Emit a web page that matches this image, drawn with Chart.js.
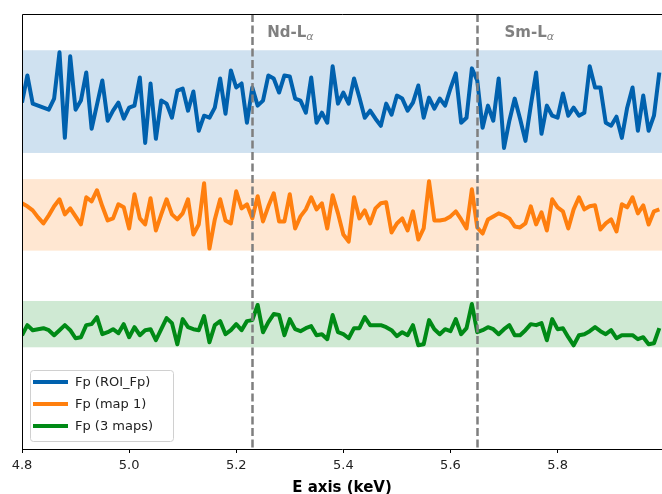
<!DOCTYPE html>
<html>
<head>
<meta charset="utf-8">
<script src="https://cdn.jsdelivr.net/npm/chart.js@4.4.1/dist/chart.umd.min.js"></script>
<style>
  body { margin: 0; background: #fff; }
  #spectra { display: block; }
</style>
</head>
<body>
<canvas id="spectra" width="662" height="494"></canvas>
<script>
// energy grid of the spectra (keV)
var energyStart = 4.80;
var energyStep = 0.01;

var seriesLabels = ['Fp (ROI_Fp)', 'Fp (map 1)', 'Fp (3 maps)'];
var seriesColors = ['#0061ae', '#ff7f0e', '#008a16'];

// stacked spectra, already offset from each other
var roiFp = [344, 371, 343, 341, 339, 337, 348, 394, 309, 390, 337, 346, 374, 318, 342, 366, 326, 336, 344, 328,
  339, 341, 369, 304, 363, 308, 346, 343, 329, 356, 358, 336, 355, 316, 331, 329, 339, 368, 333, 376,
  359, 363, 324, 359, 341, 346, 371, 368, 354, 371, 370, 348, 346, 334, 369, 324, 334, 324, 380, 343,
  354, 343, 368, 349, 329, 336, 328, 321, 343, 332, 351, 348, 336, 344, 361, 329, 349, 338, 348, 341,
  358, 373, 324, 329, 378, 366, 319, 341, 326, 368, 299, 326, 348, 328, 306, 341, 374, 313, 341, 331,
  329, 353, 331, 339, 331, 334, 380, 359, 359, 324, 321, 330, 309, 339, 359, 316, 351, 316, 331, 374];

var map1 = [244, 241, 237, 230, 224, 232, 241, 248, 233, 239, 231, 223, 250, 246, 257, 241, 227, 229, 243, 240,
  219, 253, 229, 223, 249, 217, 233, 248, 233, 228, 234, 248, 213, 223, 264, 199, 228, 248, 227, 224,
  256, 239, 243, 229, 251, 226, 241, 254, 226, 226, 253, 219, 231, 238, 250, 238, 244, 219, 252, 234,
  213, 206, 250, 229, 237, 224, 239, 244, 245, 215, 224, 229, 217, 236, 208, 219, 266, 227, 227, 228,
  231, 236, 228, 219, 258, 220, 214, 228, 231, 234, 232, 229, 221, 220, 224, 241, 223, 235, 217, 248,
  240, 236, 219, 238, 250, 238, 241, 242, 218, 224, 228, 216, 243, 240, 250, 234, 242, 223, 236, 238];

var maps3 = [113, 123, 118, 119, 120, 118, 113, 118, 123, 118, 110, 111, 123, 124, 131, 114, 116, 119, 115, 124,
  111, 121, 113, 118, 119, 108, 119, 130, 125, 104, 129, 121, 119, 118, 132, 106, 123, 127, 114, 118,
  124, 118, 127, 128, 143, 116, 126, 134, 133, 113, 129, 119, 117, 120, 122, 113, 114, 109, 133, 116,
  114, 110, 120, 120, 131, 123, 123, 123, 121, 118, 112, 116, 113, 123, 103, 104, 128, 119, 114, 119,
  117, 129, 114, 120, 144, 116, 118, 121, 119, 114, 119, 123, 113, 113, 118, 124, 123, 125, 108, 129,
  119, 120, 111, 103, 113, 114, 117, 121, 117, 114, 118, 110, 113, 113, 113, 109, 111, 104, 105, 120];

// shaded range behind each spectrum
var bandLow = [294, 197, 101];
var bandHigh = [396, 268, 147];

// emission lines
var lineEnergies = [5.23, 5.65];
var lineNames = ['Nd-L', 'Sm-L'];
var labelEnergies = [5.258, 5.701];

var xTicks = [4.8, 5.0, 5.2, 5.4, 5.6, 5.8];

function toPoints(values) {
  return values.map(function(v, i) {
    return { x: energyStart + i * energyStep, y: v };
  });
}

var allSeries = [roiFp, map1, maps3];

var decor = {
  id: 'decor',
  beforeDatasetsDraw: function(chart) {
    var ctx = chart.ctx, area = chart.chartArea, y = chart.scales.y;
    ctx.save();
    for (var i = 0; i < bandLow.length; i++) {
      var top = y.getPixelForValue(bandHigh[i]);
      var bottom = y.getPixelForValue(bandLow[i]);
      ctx.globalAlpha = 0.19;
      ctx.fillStyle = seriesColors[i];
      ctx.fillRect(area.left, top, area.right - area.left, bottom - top);
    }
    ctx.restore();
  },
  afterDatasetsDraw: function(chart) {
    var ctx = chart.ctx, area = chart.chartArea, x = chart.scales.x;
    ctx.save();

    // dashed emission lines
    ctx.strokeStyle = '#7f7f7f';
    ctx.lineWidth = 2.5;
    ctx.setLineDash([8, 3.5]);
    lineEnergies.forEach(function(e) {
      var px = Math.round(x.getPixelForValue(e)) + 0.5;
      ctx.beginPath();
      ctx.moveTo(px, area.top);
      ctx.lineTo(px, area.bottom);
      ctx.stroke();
    });
    ctx.setLineDash([]);

    // line names with italic alpha subscript
    ctx.fillStyle = '#808080';
    ctx.textBaseline = 'alphabetic';
    lineNames.forEach(function(name, i) {
      var px = x.getPixelForValue(labelEnergies[i]);
      ctx.font = 'bold 15px "DejaVu Sans"';
      ctx.fillText(name, px, area.top + 23);
      var w = ctx.measureText(name).width;
      ctx.font = 'italic 11px "DejaVu Sans"';
      ctx.fillText('\u03b1', px + w, area.top + 26);
    });

    // frame: top and left spines
    ctx.strokeStyle = '#000';
    ctx.lineWidth = 1;
    ctx.beginPath();
    ctx.moveTo(area.left + 0.5, area.bottom);
    ctx.lineTo(area.left + 0.5, area.top + 0.5);
    ctx.lineTo(area.right, area.top + 0.5);
    ctx.stroke();

    // legend in the lower left corner
    var bx = area.left + 8, bw = 143, bh = 71, by = area.bottom - 8 - bh;
    ctx.fillStyle = 'rgba(255,255,255,0.85)';
    ctx.strokeStyle = '#d0d0d0';
    ctx.beginPath();
    ctx.roundRect(bx + 0.5, by + 0.5, bw, bh, 3);
    ctx.fill();
    ctx.stroke();
    ctx.font = '13px "DejaVu Sans"';
    ctx.textBaseline = 'middle';
    chart.data.datasets.forEach(function(ds, i) {
      var ly = by + 12 + i * 22;
      ctx.strokeStyle = ds.borderColor;
      ctx.lineWidth = 4;
      ctx.beginPath();
      ctx.moveTo(bx + 3, ly);
      ctx.lineTo(bx + 38, ly);
      ctx.stroke();
      ctx.fillStyle = '#222';
      ctx.fillText(ds.label, bx + 45, ly + 1);
    });
    ctx.restore();
  }
};

var ctx = document.getElementById('spectra').getContext('2d');
var chart = new Chart(ctx, {
  type: 'line',
  data: {
    datasets: allSeries.map(function(s, i) {
      return {
        label: seriesLabels[i],
        data: toPoints(s),
        borderColor: seriesColors[i],
        borderWidth: 4,
        pointRadius: 0,
        tension: 0,
        borderJoinStyle: 'round',
        fill: false
      };
    })
  },
  options: {
    responsive: false,
    animation: false,
    layout: { padding: { left: 22, top: 14, right: 0, bottom: -2 } },
    plugins: {
      legend: { display: false },
      tooltip: { enabled: false }
    },
    scales: {
      x: {
        type: 'linear',
        min: 4.8,
        max: 5.995,
        afterBuildTicks: function(axis) {
          axis.ticks = xTicks.map(function(v) { return { value: v }; });
        },
        ticks: {
          color: '#222',
          font: { family: 'DejaVu Sans', size: 13, lineHeight: 1 },
          padding: 6,
          maxRotation: 0,
          callback: function(v) { return Number(v).toFixed(1); }
        },
        grid: { drawOnChartArea: false, drawTicks: true, tickLength: 4, color: '#000' },
        border: { display: true, color: '#000', width: 1 },
        title: {
          display: true,
          text: 'E axis (keV)',
          color: '#000',
          font: { family: 'DejaVu Sans', size: 15, weight: 'bold', lineHeight: 1 },
          padding: { top: 3, bottom: 0 }
        }
      },
      y: {
        display: false,
        min: 0,
        max: 432
      }
    }
  },
  plugins: [decor]
});
</script>
</body>
</html>
